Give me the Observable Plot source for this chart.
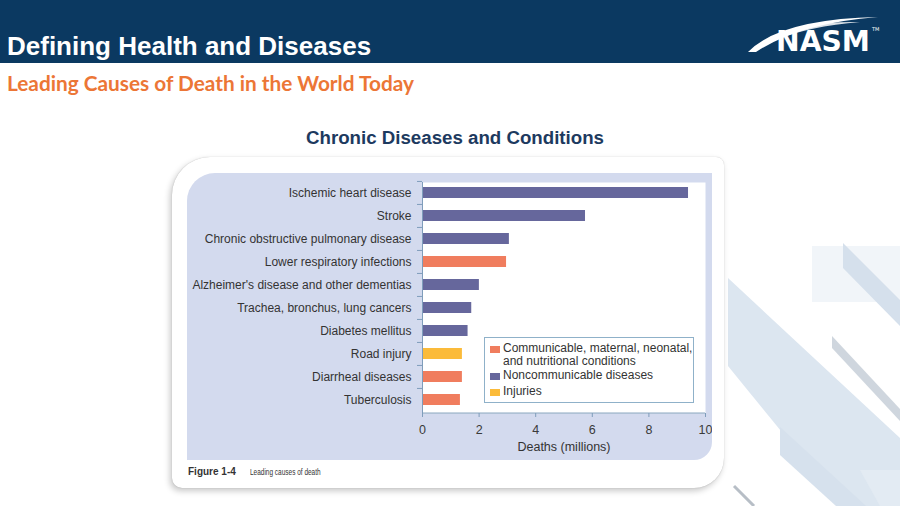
<!DOCTYPE html>
<html>
<head>
<meta charset="utf-8">
<script src="https://cdn.jsdelivr.net/npm/d3@7"></script>
<script src="https://cdn.jsdelivr.net/npm/@observablehq/plot@0.6"></script>
<style>
  html, body { margin: 0; padding: 0; }
  body { width: 900px; height: 506px; position: relative; overflow: hidden; background: #ffffff;
         font-family: "Liberation Sans", Arial, sans-serif; }
  .abs { position: absolute; }
  #header { left: 0; top: 0; width: 900px; height: 63px; background: #0b3961; }
  #title { left: 7px; top: 30px; color: #fff; font-weight: bold; font-size: 26px; line-height: 32px; white-space: nowrap; }
  #subtitle { left: 7px; top: 70px; color: #ec7636; font-family: Lato, "Open Sans", sans-serif; font-weight: bold;
              font-size: 20.8px; line-height: 26px; white-space: nowrap; }
  #charttitle { left: 0; width: 910px; top: 126px; text-align: center; color: #1d3a5f; font-weight: bold;
                font-size: 18.7px; line-height: 24px; }
  #card { left: 172px; top: 157px; width: 552px; height: 331px; background: #fff;
          border-radius: 38px 8px 30px 10px; box-shadow: -2px 3px 6px rgba(0,0,0,0.22), 0 0 1px rgba(0,0,0,0.25); }
  #panel { left: 187px; top: 173px; width: 525px; height: 287px; background: #d3daee;
           border-radius: 28px 0 18px 0; }
  #chart { left: 187px; top: 173px; width: 525px; height: 287px; }
  #legend { left: 484px; top: 337px; width: 208px; height: 64px; background: #fff; border: 1px solid #8fb1c9;
            font-size: 12px; color: #333; }
  .item { position: absolute; left: 5px; display: flex; align-items: flex-start; }
  .sw { width: 10px; height: 7px; margin-top: 4px; margin-right: 3px; flex: none; }
  .lab { white-space: pre-line; line-height: 12.5px; }
  #caption { left: 188px; top: 466px; font-size: 10px; color: #333; white-space: nowrap; }
  #caption b { font-weight: bold; margin-right: 14px; }
  #caption span { display: inline-block; font-size: 9px; transform: scaleX(0.72); transform-origin: left center; }
</style>
</head>
<body>
<!-- decorative stripes in the lower right of the slide -->
<svg class="abs" style="left:0;top:0" width="900" height="506">
  <polygon points="812,246 900,246 900,302 812,302" fill="#f1f5f9"/>
  <polygon points="728,278 900,438 900,506 842,506 728,366" fill="#dce6f0"/>
  <polygon points="843,243 900,300 900,326 843,268" fill="#d5e0ec"/>
  <polygon points="832,336 900,409 900,421 832,348" fill="#cfd6de"/>
  <polygon points="780,427 866,506 836,506 780,455" fill="#d6e1ed"/>
  <polygon points="860,470 900,470 900,506 880,506" fill="#e3ebf3"/>
  <line x1="734" y1="486" x2="754" y2="506" stroke="#b7bec6" stroke-width="3"/>
</svg>

<div id="header" class="abs"></div>
<div id="title" class="abs">Defining Health and Diseases</div>
<svg class="abs" style="left:740px;top:5px" width="150" height="55">
  <path d="M8,47 Q40,14 138,12 Q60,18 16,47 Z" fill="#ffffff"/>
  <path d="M28,34 Q60,16 120,17 Q70,21 32,36 Z" fill="#ffffff" opacity="0.85"/>
  <text x="36" y="46" fill="#ffffff" font-family="DejaVu Sans" font-weight="bold" font-size="28"
        textLength="94" lengthAdjust="spacingAndGlyphs">NASM</text>
  <text x="132" y="26" fill="#ffffff" font-family="DejaVu Sans" font-size="5">TM</text>
</svg>
<div id="subtitle" class="abs">Leading Causes of Death in the World Today</div>
<div id="charttitle" class="abs">Chronic Diseases and Conditions</div>

<div id="card" class="abs"></div>
<div id="panel" class="abs"></div>
<div id="chart" class="abs"></div>
<div id="legend" class="abs"></div>
<div id="caption" class="abs"><b>Figure 1-4</b><span>Leading causes of death</span></div>

<script>
// Leading causes of death worldwide, deaths in millions
const causes = [
  "Ischemic heart disease",
  "Stroke",
  "Chronic obstructive pulmonary disease",
  "Lower respiratory infections",
  "Alzheimer's disease and other dementias",
  "Trachea, bronchus, lung cancers",
  "Diabetes mellitus",
  "Road injury",
  "Diarrheal diseases",
  "Tuberculosis"
];
const deaths = [9.4, 5.76, 3.07, 2.97, 2.01, 1.74, 1.61, 1.41, 1.41, 1.34];
const groups = ["non", "non", "non", "comm", "non", "non", "non", "inj", "comm", "comm"];

const groupKeys = ["comm", "non", "inj"];
const groupLabels = [
  "Communicable, maternal, neonatal,\nand nutritional conditions",
  "Noncommunicable diseases",
  "Injuries"
];
const groupColors = ["#f07d5e", "#66679c", "#fbbb3a"];

const xTicks = [0, 2, 4, 6, 8, 10];
const xTitle = "Deaths (millions)";

const data = causes.map((c, i) => ({cause: c, deaths: deaths[i], group: groups[i]}));

const W = 525, H = 287, ML = 235, MR = 7, MT = 9, MB = 47;
const innerW = W - ML - MR;
const innerH = H - MT - MB;
const pInner = 0.524, pOuter = 0.26;
const step = innerH / (causes.length - pInner + 2 * pOuter);
const axisColor = "#7f9dbb";

const chart = Plot.plot({
  width: W, height: H,
  marginLeft: ML, marginRight: MR, marginTop: MT, marginBottom: MB,
  style: {background: "transparent", fontFamily: "'Liberation Sans', Arial, sans-serif", fontSize: "12px", color: "#333"},
  x: {domain: [0, 10]},
  y: {domain: causes, paddingInner: pInner, paddingOuter: pOuter, align: 0.375},
  color: {domain: groupKeys, range: groupColors},
  marks: [
    Plot.frame({fill: "white"}),
    Plot.barX(data, {x: "deaths", y: "cause", fill: "group"}),
    Plot.ruleX([0], {stroke: axisColor}),
    // category ticks sit between the bars
    Plot.ruleY(causes, {y: d => d, dy: -step / 2, insetLeft: -5, insetRight: innerW, stroke: axisColor}),
    // baseline of the value axis
    Plot.ruleY([causes[causes.length - 1]], {y: d => d, dy: step / 2 + 1.5, stroke: axisColor}),
    Plot.axisY({tickSize: 0, tickPadding: 11, label: null, fill: "#333", fontSize: 12}),
    Plot.axisX({ticks: xTicks, tickSize: 4, tickPadding: 8, label: null, stroke: axisColor, fill: "#3a3a3a", fontSize: 12.5}),
    Plot.text([xTitle], {text: d => d, frameAnchor: "bottom", dy: 37, fontSize: 12.5, fill: "#333"})
  ]
});
document.getElementById("chart").appendChild(chart);

// legend box
const legend = document.getElementById("legend");
const itemTops = [4, 31, 47];
groupKeys.forEach((k, i) => {
  const item = document.createElement("div");
  item.className = "item";
  item.style.top = itemTops[i] + "px";
  const sw = document.createElement("div");
  sw.className = "sw";
  sw.style.background = groupColors[i];
  const lab = document.createElement("div");
  lab.className = "lab";
  lab.textContent = groupLabels[i];
  item.appendChild(sw);
  item.appendChild(lab);
  legend.appendChild(item);
});
</script>
</body>
</html>
